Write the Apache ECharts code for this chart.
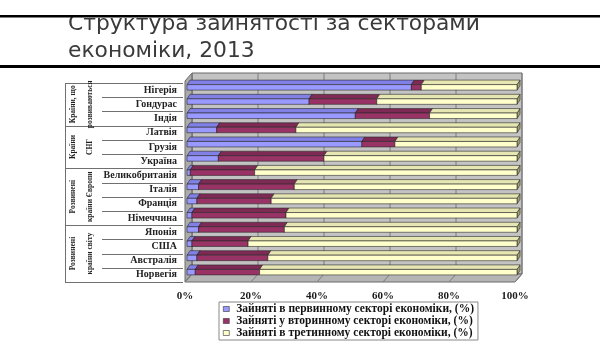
<!DOCTYPE html>
<html>
<head>
<meta charset="utf-8">
<script src="https://cdn.jsdelivr.net/npm/echarts@6/dist/echarts.min.js"></script>
<style>
  html, body { margin: 0; padding: 0; background: #fff; }
  #chart { width: 600px; height: 345px; }
</style>
</head>
<body>
<div id="chart"></div>
<script>
// Employment structure by economic sector, 2013 (% of employed)
const countries = ['Нігерія', 'Гондурас', 'Індія', 'Латвія', 'Грузія', 'Україна',
  'Великобританія', 'Італія', 'Франція', 'Німеччина', 'Японія', 'США', 'Австралія', 'Норвегія'];
const primary   = [68, 37, 51, 9, 53, 9.5, 1, 3.5, 3, 1.5, 3.5, 1.5, 3, 2.5];
const secondary = [3, 20.5, 22.5, 24, 10, 32, 19.5, 29, 22.5, 28.5, 26, 17, 21.5, 19.5];
const tertiary  = [29, 42.5, 26.5, 67, 37, 58.5, 79.5, 67.5, 74.5, 70, 70.5, 81.5, 75.5, 78];
const seriesNames = [
  'Зайняті в первинному секторі економіки, (%)',
  'Зайняті у вторинному секторі економіки, (%)',
  'Зайняті в третинному секторі економіки, (%)'
];
const xTicks = [0, 20, 40, 60, 80, 100];
const groupNames = [
  ['Країни, що', 'розвиваються'],
  ['Країни', 'СНГ'],
  ['Розвинені', 'країни Європи'],
  ['Розвинені', 'країни світу']
];
const groupStarts = [0, 3, 6, 10, 14];
const titleLines = ['Структура зайнятості за секторами', 'економіки, 2013'];

const SERIF = '"Liberation Serif", "DejaVu Serif", serif';
const faces = [
  { front: '#9999FF', top: '#8080E6', side: '#6666CC' },
  { front: '#993366', top: '#7F2A55', side: '#662244' },
  { front: '#FFFFCC', top: '#E6E6B3', side: '#A3A36B' }
];

// 3D frame geometry (front plane follows the grid, back wall is offset)
const GRID = { left: 185, right: 85, top: 83, bottom: 63 };
const WALL_DX = 7, WALL_DY = -8;
const BAR_DX = 2, BAR_FRONT = 5.5, BAR_DEPTH_X = 3, BAR_DEPTH_Y = 4.5;

// stacked segments [start, end, rowIndex]
const sectors = [primary, secondary, tertiary];
const segments = sectors.map(() => []);
countries.forEach((_, i) => {
  let acc = 0;
  sectors.forEach((arr, s) => {
    segments[s].push([acc, acc + arr[i], i]);
    acc += arr[i];
  });
});

function boxRenderer(face) {
  return function (params, api) {
    const row = api.value(2);
    const a = api.coord([api.value(0), row]);
    const b = api.coord([api.value(1), row]);
    const x0 = a[0] + BAR_DX, x1 = b[0] + BAR_DX;
    const yB = a[1], yT = yB - BAR_FRONT, yTT = yT - BAR_DEPTH_Y;
    const stroke = '#2a2a2a';
    return {
      type: 'group',
      children: [
        { type: 'polygon',
          shape: { points: [[x1, yT], [x1 + BAR_DEPTH_X, yTT], [x1 + BAR_DEPTH_X, yB - BAR_DEPTH_Y], [x1, yB]] },
          style: { fill: face.side, stroke: stroke, lineWidth: 0.6 } },
        { type: 'polygon',
          shape: { points: [[x0, yT], [x1, yT], [x1 + BAR_DEPTH_X, yTT], [x0 + BAR_DEPTH_X, yTT]] },
          style: { fill: face.top, stroke: stroke, lineWidth: 0.6 } },
        { type: 'rect',
          shape: { x: x0, y: yT, width: x1 - x0, height: BAR_FRONT },
          style: { fill: api.visual('color'), stroke: stroke, lineWidth: 0.6 } }
      ]
    };
  };
}

const chart = echarts.init(document.getElementById('chart'), null, { renderer: 'canvas' });

chart.setOption({
  animation: false,
  backgroundColor: '#ffffff',
  grid: GRID,
  xAxis: {
    type: 'value', min: xTicks[0], max: xTicks[xTicks.length - 1], interval: 20,
    axisLine: { show: false }, axisTick: { show: false }, splitLine: { show: false },
    axisLabel: {
      formatter: '{value}%', margin: 9,
      fontFamily: SERIF, fontWeight: 'bold', fontSize: 11, color: '#1a1a1a'
    }
  },
  yAxis: {
    type: 'category', inverse: true, data: countries,
    axisLine: { show: false }, axisTick: { show: false }, splitLine: { show: false },
    axisLabel: { margin: 8, fontFamily: SERIF, fontWeight: 'bold', fontSize: 10, color: '#222' }
  },
  legend: {
    orient: 'vertical', left: 219, top: 302,
    data: seriesNames, icon: 'rect',
    itemWidth: 6, itemHeight: 5, itemGap: 0,
    padding: [1, 4, 1, 4],
    borderColor: '#888', borderWidth: 1,
    itemStyle: { borderColor: '#333', borderWidth: 0.6 },
    textStyle: { fontFamily: SERIF, fontWeight: 'bold', fontSize: 11.5, lineHeight: 7, color: '#111', padding: [0, 0, 0, 2] }
  },
  series: seriesNames.map((name, s) => ({
    type: 'custom', name: name,
    itemStyle: { color: faces[s].front },
    renderItem: boxRenderer(faces[s]),
    encode: { x: [0, 1], y: 2 },
    data: segments[s],
    z: 3 + s
  }))
});

// frame, gridlines, group labels and title, placed from the axis scales
const fx = v => chart.convertToPixel({ xAxisIndex: 0 }, v);
const rowY = i => chart.convertToPixel({ yAxisIndex: 0 }, i);
const band = rowY(1) - rowY(0);
const edgeY = i => rowY(0) - band / 2 + i * band;

const frontL = fx(0), frontR = fx(100);
const frontT = GRID.top - 2, frontB = 345 - GRID.bottom;
const backL = frontL + WALL_DX, backR = frontR + WALL_DX;
const backT = frontT + WALL_DY, backB = frontB + WALL_DY;

const g = [];
// back wall
g.push({ type: 'rect', z: 0, shape: { x: backL, y: backT, width: backR - backL, height: backB - backT },
  style: { fill: '#C3C3C3', stroke: '#6a6a6a', lineWidth: 1 } });
// left side wall
g.push({ type: 'polygon', z: 0, shape: { points: [[frontL, frontT], [backL, backT], [backL, backB], [frontL, frontB]] },
  style: { fill: '#ABABAB', stroke: '#6a6a6a', lineWidth: 1 } });
// floor
g.push({ type: 'polygon', z: 0, shape: { points: [[frontL, frontB], [frontR, frontB], [backR, backB], [backL, backB]] },
  style: { fill: '#B5B5B5', stroke: '#6a6a6a', lineWidth: 1 } });
xTicks.forEach(v => {
  const x = fx(v);
  g.push({ type: 'line', z: 1, shape: { x1: x + WALL_DX, y1: backT, x2: x + WALL_DX, y2: backB },
    style: { stroke: '#7d7d7d', lineWidth: 1 } });
  g.push({ type: 'line', z: 1, shape: { x1: x, y1: frontB, x2: x + WALL_DX, y2: backB },
    style: { stroke: '#7d7d7d', lineWidth: 1 } });
});

// category separators and country groups
const LEFT_LINE = 65, INNER_LINE = 102;
for (let i = 0; i <= countries.length; i++) {
  const major = groupStarts.indexOf(i) >= 0;
  const y = Math.round(edgeY(i)) + 0.5;
  g.push({ type: 'line', z: 1, shape: { x1: major ? LEFT_LINE : INNER_LINE, y1: y, x2: frontL - 2, y2: y },
    style: { stroke: '#707070', lineWidth: 1 } });
}
g.push({ type: 'line', z: 1, shape: { x1: LEFT_LINE + 0.5, y1: edgeY(0), x2: LEFT_LINE + 0.5, y2: edgeY(countries.length) },
  style: { stroke: '#707070', lineWidth: 1 } });
groupNames.forEach((lines, k) => {
  const yc = (edgeY(groupStarts[k]) + edgeY(groupStarts[k + 1])) / 2;
  lines.forEach((txt, j) => {
    g.push({ type: 'text', z: 1, x: 73 + j * 17, y: yc, rotation: Math.PI / 2,
      style: { text: txt, fontFamily: SERIF, fontWeight: 'bold', fontSize: 7.5, fill: '#222',
        align: 'center', verticalAlign: 'middle' } });
  });
});

// title with rules
titleLines.forEach((txt, j) => {
  g.push({ type: 'text', z: 1, x: 68, y: 24 + j * 27,
    style: { text: txt, fontFamily: '"DejaVu Sans", sans-serif', fontSize: 21.8, fill: '#3a3a3a',
      align: 'left', verticalAlign: 'middle' } });
});
g.push({ type: 'rect', z: 5, shape: { x: 0, y: 0, width: 600, height: 15 }, style: { fill: '#ffffff' } });
g.push({ type: 'rect', z: 6, shape: { x: 0, y: 15, width: 600, height: 2.5 }, style: { fill: '#000000' } });
g.push({ type: 'rect', z: 6, shape: { x: 0, y: 65, width: 600, height: 3 }, style: { fill: '#000000' } });

chart.setOption({ graphic: { elements: g } });
</script>
</body>
</html>
